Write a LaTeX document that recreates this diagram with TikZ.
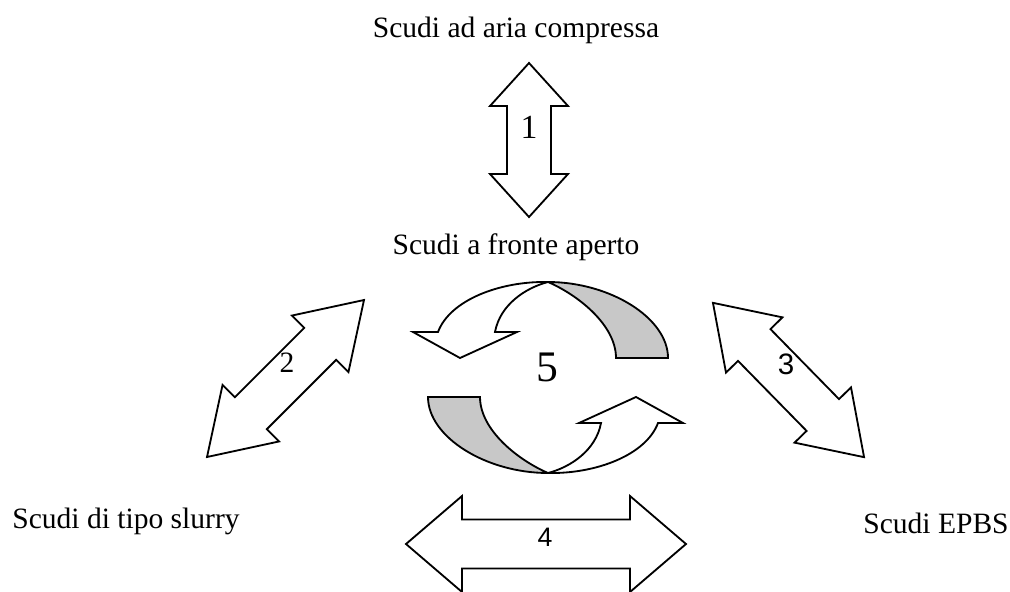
\documentclass[tikz,border=0pt]{standalone}
\usepackage{fontspec}
\setmainfont{Liberation Serif}
\newfontfamily\digitsans{Liberation Sans}
\definecolor{bandgray}{RGB}{200,200,200}

% double-headed block arrow along the local x axis:
% #1 half length, #2 head length, #3 head half width, #4 shaft half width
\newcommand\twinhead[4]{%
  \path[outline] (-#1,0) -- (-#1+#2,#3) -- (-#1+#2,#4) -- (#1-#2,#4)
    -- (#1-#2,#3) -- (#1,0) -- (#1-#2,-#3) -- (#1-#2,-#4)
    -- (-#1+#2,-#4) -- (-#1+#2,-#3) -- cycle;}

\tikzset{
  outline/.style={draw=black, line width=1.3pt, line join=miter, fill=white},
  band/.style={outline, fill=bandgray},
  caption/.style={font=\fontsize{21}{25}\selectfont, anchor=base, inner sep=0pt},
  tag/.style={inner sep=0pt, font=\fontsize{#1}{#1}\selectfont},
  sanstag/.style={inner sep=0pt, font=\digitsans\fontsize{#1}{#1}\selectfont}
}

\begin{document}
\begin{tikzpicture}[x=0.025cm, y=-0.025cm]
  \clip (0,0) rectangle (1010,591);
  \fill[white] (0,0) rectangle (1010,591);

  % four double arrows between the shield types
  \begin{scope}[shift={(529,140)}, rotate=90]
    \twinhead{77}{43}{39}{22}
  \end{scope}
  \begin{scope}[shift={(285.5,378.5)}, rotate=45]
    \twinhead{111}{62}{40}{22.6}
  \end{scope}
  \begin{scope}[shift={(788.5,380)}, rotate=-45.6]
    \twinhead{108}{59}{39.5}{22.7}
  \end{scope}
  \begin{scope}[shift={(546,544)}]
    \twinhead{140}{56}{48}{24.5}
  \end{scope}

  % twisted circular band: shaded back part and white arrow part, twice
  \foreach \turn in {0,180} {
    \begin{scope}[rotate around={\turn:(548,377.5)}]
      \path[band] (548,282) .. controls (610,282) and (668,318) .. (668,358)
        -- (616,358) .. controls (616,325) and (578,295) .. (548,282) -- cycle;
      \path[outline] (548,282) .. controls (500,281) and (450,300) .. (438,332)
        -- (413,332) -- (460,358) -- (517,332) -- (495,332)
        .. controls (500,305) and (525,288) .. (548,282) -- cycle;
    \end{scope}
  }

  % shield types
  \node[caption] (aria)   at (516,38)  {Scudi ad aria compressa};
  \node[caption] (aperto) at (516,254) {Scudi a fronte aperto};
  \node[caption] (slurry) at (126,528) {Scudi di tipo slurry};
  \node[caption] (epbs)   at (936,533) {Scudi EPBS};

  % transition numbers
  \node[tag=24]     (n1) at (529,127) {1};
  \node[tag=21]     (n2) at (287,363) {2};
  \node[sanstag=21] (n3) at (786,364) {3};
  \node[sanstag=19] (n4) at (545,537) {4};
  \node[tag=31]     (n5) at (547,367) {5};
\end{tikzpicture}
\end{document}
